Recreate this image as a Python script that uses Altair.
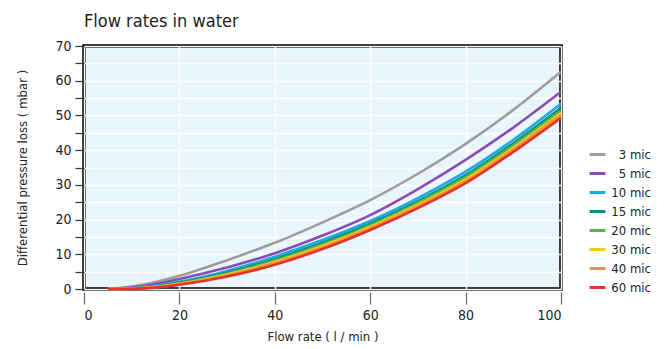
import altair as alt
import pandas as pd

flow = [5, 10, 15, 20, 30, 40, 50, 60, 70, 80, 90, 100]

series_names = ["3 mic", "5 mic", "10 mic", "15 mic", "20 mic", "30 mic", "40 mic", "60 mic"]
mic3 = [0, 0.7, 2.0, 3.8, 8.3, 13.3, 19.2, 25.6, 33.2, 41.8, 51.6, 62.6]
mic5 = [0, 0.4, 1.4, 2.9, 6.2, 10.3, 15.4, 21.3, 28.8, 37.2, 46.5, 56.8]
mic10 = [0, 0.2, 1.0, 2.1, 5.2, 9.3, 14.1, 19.6, 26.2, 33.8, 43.0, 53.4]
mic15 = [0, 0.15, 0.8, 1.8, 4.7, 8.6, 13.3, 18.8, 25.3, 32.8, 42.0, 52.2]
mic20 = [0, 0.12, 0.7, 1.65, 4.4, 8.2, 12.8, 18.3, 24.8, 32.2, 41.3, 51.3]
mic30 = [0, 0.1, 0.6, 1.5, 4.2, 7.8, 12.4, 17.9, 24.3, 31.6, 40.7, 50.7]
mic40 = [0, 0.08, 0.5, 1.4, 3.9, 7.5, 12.0, 17.5, 23.9, 31.1, 40.2, 50.2]
mic60 = [0, 0.05, 0.4, 1.2, 3.6, 7.0, 11.5, 17.0, 23.3, 30.5, 39.5, 49.3]
colors = ["#9d9d9d", "#8a4cb0", "#1aa9e2", "#0f8e85", "#4fb84a", "#f8c80f", "#f6923a", "#e2342a"]

all_series = [mic3, mic5, mic10, mic15, mic20, mic30, mic40, mic60]
rows = []
for name, vals in zip(series_names, all_series):
    for x, y in zip(flow, vals):
        rows.append({"flow": x, "dp": y, "series": name})
df = pd.DataFrame(rows)

FONT = "DejaVu Sans Condensed, Roboto, sans-serif"

chart = alt.Chart(df).mark_line(strokeWidth=2.6, interpolate="monotone").encode(
    x=alt.X("flow:Q", title="Flow rate ( l / min )",
            scale=alt.Scale(domain=[0, 100], nice=False),
            axis=alt.Axis(values=[0, 20, 40, 60, 80, 100], tickSize=12, tickColor="#666666",
                          tickWidth=1.2, offset=3, labelPadding=4, titlePadding=8)),
    y=alt.Y("dp:Q", title="Differential pressure loss ( mbar )",
            scale=alt.Scale(domain=[0, 70], nice=False),
            axis=alt.Axis(values=[0, 5, 10, 15, 20, 25, 30, 35, 40, 45, 50, 55, 60, 65, 70],
                          labelExpr="datum.value % 10 == 0 ? datum.label : ''",
                          tickSize=9, tickColor="#333333", tickWidth=1.2, labelPadding=4,
                          titlePadding=25)),
    color=alt.Color("series:N", sort=series_names,
                    scale=alt.Scale(domain=series_names, range=colors),
                    legend=alt.Legend(title=None, orient="none", legendX=504, legendY=99,
                                      symbolType="stroke", symbolStrokeWidth=3,
                                      symbolSize=250, labelAlign="right", labelOffset=44,
                                      rowPadding=2, labelFontSize=13)),
    order=alt.Order("series_order:Q"),
).transform_calculate(
    series_order="indexof(" + str(series_names) + ", datum.series)"
).properties(
    width=477, height=243,
    padding={"left": 8, "top": 5, "right": 5, "bottom": 5},
    title=alt.Title("Flow rates in water", anchor="start", frame="group", fontSize=18,
                    font=FONT, fontWeight="normal", color="#222222", offset=8),
).configure(
    font=FONT,
).configure_view(
    fill="#e9f5fc", stroke="#000000", strokeWidth=3.5,
).configure_axis(
    domain=False, grid=True, gridColor="#ffffff", gridWidth=1.5,
    labelFont=FONT, titleFont=FONT, labelFontSize=14, titleFontSize=13,
    labelColor="#222222", titleColor="#222222", titleFontWeight="normal",
).configure_legend(
    labelFont=FONT, labelColor="#222222",
)

chart.save("out.html", embed_options={"renderer": "svg", "actions": False})
